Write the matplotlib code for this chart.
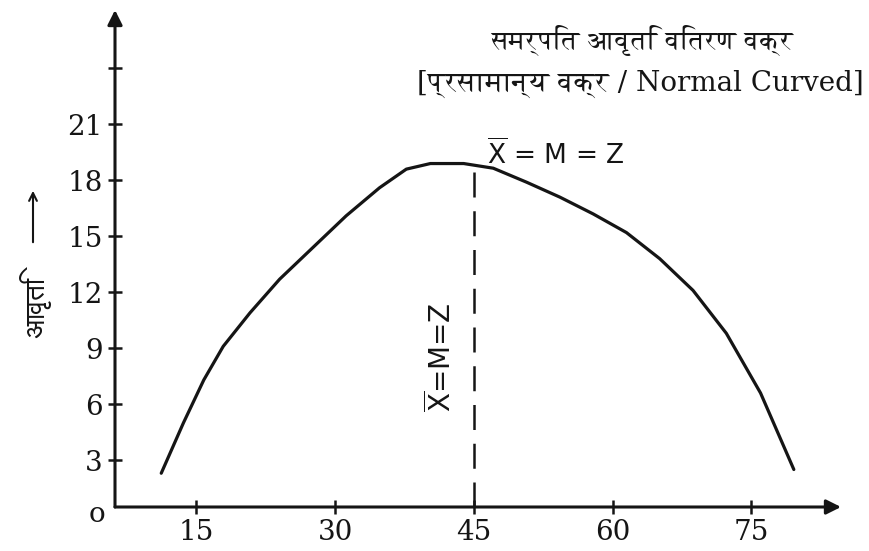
import matplotlib
matplotlib.use("Agg")
import matplotlib.pyplot as plt
from matplotlib import font_manager
from matplotlib.ft2font import FT2Font

# ---- data ----
x_vals = [11.2, 13.6, 15.8, 17.9, 20.8, 24.0, 27.6, 31.2, 34.8, 37.7, 40.3, 43.9,
          47.1, 50.7, 54.3, 57.9, 61.5, 65.1, 68.7, 72.3, 76.0, 79.6]
y_vals = [2.3, 5.0, 7.3, 9.1, 10.9, 12.7, 14.4, 16.1, 17.6, 18.6, 18.9, 18.9,
          18.65, 17.9, 17.1, 16.2, 15.2, 13.8, 12.1, 9.8, 6.6, 2.5]
x_ticks = [15, 30, 45, 60, 75]
y_ticks = [3, 6, 9, 12, 15, 18, 21, 24]
y_tick_labels = ["3", "6", "9", "12", "15", "18", "21", ""]
mean_x = 45
peak_y = 18.9
title1 = "समर्पित आवृति वितरण वक्र"
title2 = "[प्रसामान्य वक्र / Normal Curved]"
ylabel = "आवृति"
ann = r"$\overline{\mathrm{X}}$ = M = Z"
ann_v = r"$\overline{\mathrm{X}}$=M=Z"

# find Devanagari-capable fonts, prefer proportional ones
cands = []
for f in font_manager.fontManager.ttflist:
    try:
        if 0x0915 in FT2Font(f.fname).get_charmap():
            cands.append(f.name)
    except Exception:
        pass
def pick(pref):
    prop = [c for c in cands if "mono" not in c.lower()]
    for c in prop:
        if pref in c.lower():
            return c
    if prop:
        return prop[0]
    return cands[0] if cands else None
deva_serif = pick("serif")
deva_sans = pick("sans")
serif_fam = ["DejaVu Serif"] + ([deva_serif] if deva_serif else [])
sans_fam = ["DejaVu Sans"] + ([deva_sans] if deva_sans else [])

W, H = 869, 551
fig = plt.figure(figsize=(W / 100, H / 100), dpi=100)
fig.patch.set_facecolor("white")

left_px, right_px, bottom_px, top_px = 115, 841, 507, 10
ax = fig.add_axes([left_px / W, 1 - bottom_px / H, (right_px - left_px) / W,
                   (bottom_px - top_px) / H])
ax.set_xlim(6.2, 84.7)
ax.set_ylim(0.49, 27.13)
for s in ax.spines.values():
    s.set_visible(False)

col = "#151515"
# axes with arrows
ax.annotate("", xy=(1, 0), xytext=(0, 0), xycoords="axes fraction",
            arrowprops=dict(arrowstyle="-|>", lw=2.2, color=col, mutation_scale=22,
                            shrinkA=0, shrinkB=0))
ax.annotate("", xy=(0, 1), xytext=(0, 0), xycoords="axes fraction",
            arrowprops=dict(arrowstyle="-|>", lw=2.2, color=col, mutation_scale=22,
                            shrinkA=0, shrinkB=0))

ax.set_xticks(x_ticks)
ax.set_xticklabels([str(v) for v in x_ticks])
ax.set_yticks(y_ticks)
ax.set_yticklabels(y_tick_labels)
ax.tick_params(direction="inout", length=10, width=1.8, color=col, labelcolor=col,
               labelsize=20)
ax.tick_params(axis="x", pad=4)
ax.tick_params(axis="y", pad=4)
for lab in ax.get_xticklabels() + ax.get_yticklabels():
    lab.set_family("DejaVu Serif")

# curve
ax.plot(x_vals, y_vals, color=col, lw=2.3, solid_capstyle="round", solid_joinstyle="round")
# dashed mean line
ax.plot([mean_x, mean_x], [0.49, peak_y], color=col, lw=1.8, linestyle=(0, (10, 5.5)))

# annotations
fig.text(556 / W, 1 - 154 / H, ann, fontsize=19, family="DejaVu Sans", color=col,
         ha="center", va="center")
fig.text(441 / W, 1 - 357 / H, ann_v, fontsize=20, family="DejaVu Sans", color=col,
         ha="center", va="center", rotation=90)

# titles
fig.text(642 / W, 1 - 40 / H, title1, fontsize=19, family=serif_fam, color=col,
         ha="center", va="center")
fig.text(864 / W, 1 - 84 / H, title2, fontsize=20, family=serif_fam, color=col,
         ha="right", va="center")

# y label and arrow
fig.text(35 / W, 1 - 307 / H, ylabel, fontsize=20, family=sans_fam, color=col,
         ha="center", va="center", rotation=90)
fig.patches.append(matplotlib.patches.FancyArrowPatch(
    (33 / W, 1 - 245 / H), (33 / W, 1 - 188 / H), transform=fig.transFigure,
    arrowstyle="->", mutation_scale=14, lw=1.5, color=col))

# origin label
fig.text(97 / W, 1 - 515 / H, "o", fontsize=20, family="DejaVu Serif", color=col,
         ha="center", va="center")

fig.savefig("out.png", dpi=100, facecolor="white")
